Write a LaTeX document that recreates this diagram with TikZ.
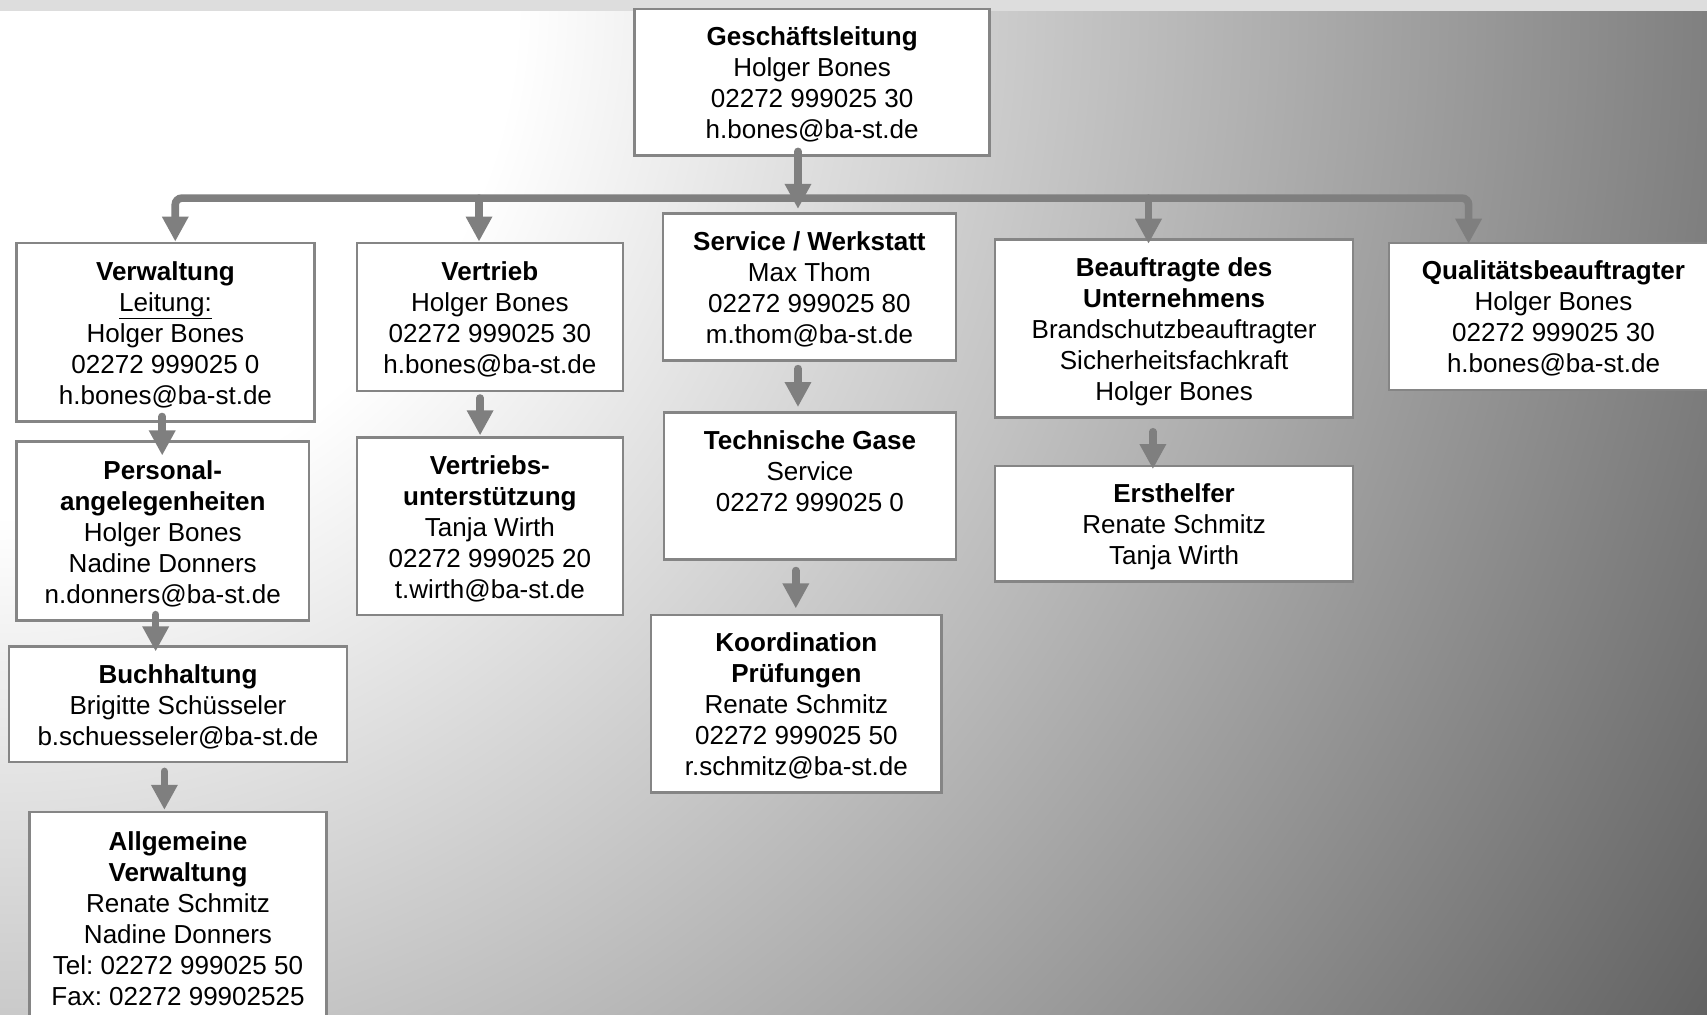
\documentclass[tikz,border=0pt]{standalone}
\usepackage{fontspec}
\setmainfont{Liberation Sans}
\frenchspacing
\usetikzlibrary{arrows.meta,calc}
\definecolor{bgdark}{gray}{0.373}
\definecolor{bandgray}{HTML}{DDDDDD}
\definecolor{boxgray}{HTML}{858585}
\definecolor{arrgray}{HTML}{7F7F7F}
\pgfdeclareradialshading{bgrad}{\pgfpointorigin}{color(0bp)=(white); color(6.4bp)=(white); color(25bp)=(bgdark); color(50bp)=(bgdark)}
\newcommand\orgfs{\fontsize{23.9pt}{28.5pt}\selectfont\frenchspacing}
\newcommand\ttl[1]{\rule{0pt}{23.5pt}\textbf{#1}}
\tikzset{
  box/.style={draw=boxgray, line width=2.2pt, fill=white, inner sep=0pt, align=center, font=\orgfs,
    execute at end node={\rule[-5pt]{0pt}{0pt}}},
  arr/.style={draw=arrgray, line width=7pt, line cap=round, -{Triangle[width=23pt,length=23pt]}},
}
\begin{document}
\begin{tikzpicture}[x=1pt,y=-1pt]
\useasboundingbox (0,0) rectangle (1568,932);
\begin{scope}
  \clip (0,0) rectangle (1568,932);
  \shade[shading=bgrad] (-1850,-1850) rectangle (1850,1850);
  \fill[bandgray] (0,0) rectangle (1568,10);
\end{scope}

% boxes
\node[box, minimum width=326pt, minimum height=135pt] (gl) at (746,75.5)
  {\ttl{Geschäftsleitung}\\Holger Bones\\02272 999025 30\\h.bones@ba-st.de};
\node[box, minimum width=274pt, minimum height=164pt] (verw) at (152,305)
  {\ttl{Verwaltung}\\\underline{Leitung:}\\Holger Bones\\02272 999025 0\\h.bones@ba-st.de};
\node[box, minimum width=244pt, minimum height=136pt] (vert) at (450,291)
  {\ttl{Vertrieb}\\Holger Bones\\02272 999025 30\\h.bones@ba-st.de};
\node[box, minimum width=269pt, minimum height=135pt] (serv) at (743.5,263.5)
  {\ttl{Service / Werkstatt}\\Max Thom\\02272 999025 80\\m.thom@ba-st.de};
\node[box, minimum width=329pt, minimum height=163.5pt] (beauf) at (1078.5,301.75)
  {\ttl{Beauftragte des}\\\textbf{Unternehmens}\\Brandschutzbeauftragter\\Sicherheitsfachkraft\\Holger Bones};
\node[box, minimum width=302pt, minimum height=135pt] (qual) at (1427,290.5)
  {\ttl{Qualitätsbeauftragter}\\Holger Bones\\02272 999025 30\\h.bones@ba-st.de};
\node[box, minimum width=269pt, minimum height=164.5pt] (pers) at (149.5,487.75)
  {\ttl{Personal-}\\\textbf{angelegenheiten}\\Holger Bones\\Nadine Donners\\n.donners@ba-st.de};
\node[box, minimum width=244pt, minimum height=163pt] (vu) at (450,483.5)
  {\ttl{Vertriebs-}\\\textbf{unterstützung}\\Tanja Wirth\\02272 999025 20\\t.wirth@ba-st.de};
\node[box, minimum width=268pt, minimum height=135pt] (tg) at (744,446.5)
  {\ttl{Technische Gase}\\Service\\02272 999025 0\\};
\node[box, minimum width=329pt, minimum height=106pt] (erst) at (1078.5,481)
  {\ttl{Ersthelfer}\\Renate Schmitz\\Tanja Wirth};
\node[box, minimum width=311pt, minimum height=106pt] (buch) at (163.5,647)
  {\ttl{Buchhaltung}\\Brigitte Schüsseler\\b.schuesseler@ba-st.de};
\node[box, minimum width=267pt, minimum height=163pt] (koord) at (731.5,646.5)
  {\ttl{Koordination}\\\textbf{Prüfungen}\\Renate Schmitz\\02272 999025 50\\r.schmitz@ba-st.de};
\node[box, minimum width=273pt, minimum height=194pt] (allg) at (163.5,843)
  {\ttl{Allgemeine}\\\textbf{Verwaltung}\\Renate Schmitz\\Nadine Donners\\Tel: 02272 999025 50\\Fax: 02272 99902525};

% reference coordinates for connector columns
\coordinate (busy) at (0,182);
\coordinate (xg) at (733,0);
\coordinate (xa) at (161,0);
\coordinate (xb) at (440,0);
\coordinate (xd) at (1055,0);
\coordinate (xe) at (1349,0);
\coordinate (c1) at (149,0);
\coordinate (c2) at (143,0);
\coordinate (c3) at (151,0);
\coordinate (c4) at (441,0);
\coordinate (c5) at (733,0);
\coordinate (c6) at (731,0);
\coordinate (c7) at (1059,0);

% connectors
\draw[arr, rounded corners=6pt] (xg |- busy) -| (xa |- verw.north);
\draw[arr, rounded corners=6pt] (xg |- busy) -| ($(xe |- qual.north)+(0,2)$);
\draw[arr] (xb |- busy) -- (xb |- vert.north);
\draw[arr] (xd |- busy) -- ($(xd |- beauf.north)+(0,5)$);
\draw[arr] ($(xg |- gl.south)+(0,-5)$) -- ($(xg |- serv.north)+(0,-3)$);

\draw[arr] ($(c1 |- verw.south)+(0,-5.5)$) -- ($(c1 |- pers.north)+(0,14)$);
\draw[arr] ($(c2 |- pers.south)+(0,-6.5)$) -- ($(c2 |- buch.north)+(0,5.5)$);
\draw[arr] ($(c3 |- buch.south)+(0,7.5)$) -- ($(c3 |- allg.north)+(0,-1)$);
\draw[arr] ($(c4 |- vert.south)+(0,5.5)$) -- ($(c4 |- vu.north)+(0,-1)$);
\draw[arr] ($(c5 |- serv.south)+(0,6.5)$) -- ($(c5 |- tg.north)+(0,-4)$);
\draw[arr] ($(c6 |- tg.south)+(0,9)$) -- ($(c6 |- koord.north)+(0,-5)$);
\draw[arr] ($(c7 |- beauf.south)+(0,12)$) -- ($(c7 |- erst.north)+(0,4)$);
\end{tikzpicture}
\end{document}
